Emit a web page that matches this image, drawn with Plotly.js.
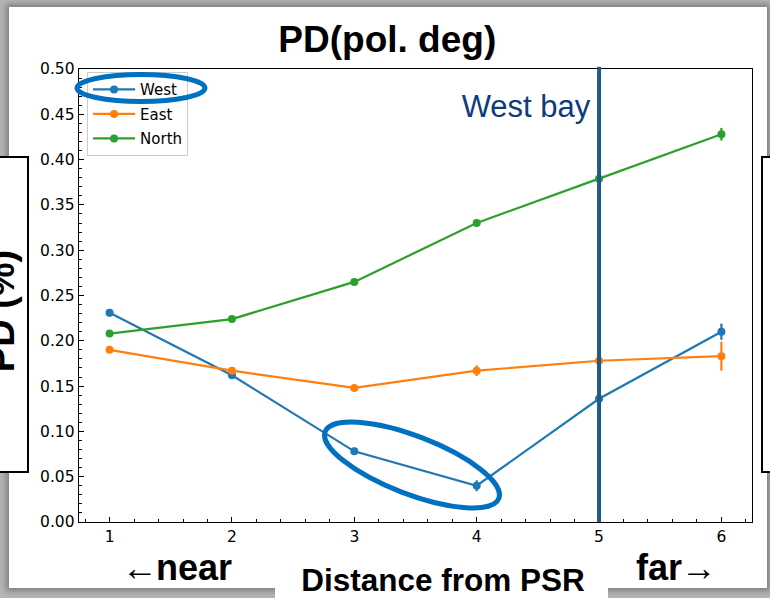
<!DOCTYPE html>
<html>
<head>
<meta charset="utf-8">
<script src="https://cdn.plot.ly/plotly-3.0.1.min.js"></script>
<style>
  html, body { margin:0; padding:0; width:770px; height:598px; overflow:hidden; background:#b5b5b5; }
  #card { position:absolute; left:9px; top:7px; width:758px; height:581px; background:#fff;
          box-shadow: 0 0 6px 3px rgba(0,0,0,0.30); }
  #chart { position:absolute; left:0; top:0; width:770px; height:598px; }
  #overlay { position:absolute; left:0; top:0; width:770px; height:598px; pointer-events:none; }
</style>
</head>
<body>
<div id="card"></div>
<div id="chart"></div>
<svg id="overlay" width="770" height="598" xmlns="http://www.w3.org/2000/svg"></svg>
<script>
// ---- data ----
const distance = [1, 2, 3, 4, 5, 6];
const seriesNames = ["West", "East", "North"];
const westPD  = [0.231, 0.162, 0.078, 0.040, 0.136, 0.210];
const westErr = [0.004, 0.004, 0.004, 0.006, 0.008, 0.009];
const eastPD  = [0.190, 0.167, 0.148, 0.167, 0.178, 0.183];
const eastErr = [0.003, 0.003, 0.003, 0.006, 0.010, 0.016];
const northPD  = [0.208, 0.224, 0.265, 0.330, 0.379, 0.428];
const northErr = [0.003, 0.003, 0.003, 0.004, 0.005, 0.007];
const westBayX = 5;

const colors = ["#1f77b4", "#ff7f0e", "#2ca02c"];
const values = [westPD, eastPD, northPD];
const errors = [westErr, eastErr, northErr];

const traces = seriesNames.map((name, i) => ({
  type: "scatter",
  mode: "lines+markers",
  name: name,
  legendgroup: name,
  x: distance,
  y: values[i],
  line: { color: colors[i], width: 2.2 },
  marker: { color: colors[i], size: 8 },
  error_y: { type: "data", array: errors[i], visible: true, thickness: 2.2, width: 0, color: colors[i] },
  hoverinfo: "x+y+name"
}));

const tickFont = { family: "DejaVu Sans", size: 15.5, color: "#000" };

const layout = {
  width: 770, height: 598,
  margin: { l: 79, r: 18, t: 69, b: 76, pad: 0 },
  paper_bgcolor: "rgba(0,0,0,0)",
  plot_bgcolor: "#ffffff",
  showlegend: true,
  title: {
    text: "<b>PD(pol. deg)</b>",
    font: { family: "Liberation Sans, Arial, sans-serif", size: 37, color: "#000" },
    x: 0.503, xanchor: "center", xref: "container",
    y: 0.935, yanchor: "middle", yref: "container"
  },
  xaxis: {
    range: [0.75, 6.25],
    tickmode: "linear", tick0: 1, dtick: 1,
    ticks: "inside", ticklen: 5, tickwidth: 1, tickcolor: "#000",
    minor: { tick0: 0.2, dtick: 0.2, ticks: "inside", ticklen: 3, tickwidth: 1, tickcolor: "#000", showgrid: false },
    showline: true, linecolor: "#000", linewidth: 1.3, mirror: true,
    showgrid: false, zeroline: false,
    tickfont: tickFont
  },
  yaxis: {
    range: [0, 0.5],
    tickmode: "linear", tick0: 0, dtick: 0.05, tickformat: ".2f",
    ticks: "inside", ticklen: 5, tickwidth: 1, tickcolor: "#000",
    minor: { dtick: 0.01, ticks: "inside", ticklen: 3, tickwidth: 1, tickcolor: "#000", showgrid: false },
    showline: true, linecolor: "#000", linewidth: 1.3, mirror: true,
    showgrid: false, zeroline: false,
    tickfont: tickFont
  },
  legend: {
    x: 0.012, y: 0.993, xanchor: "left", yanchor: "top",
    bgcolor: "rgba(255,255,255,0.85)", bordercolor: "#cccccc", borderwidth: 1,
    font: { family: "DejaVu Sans", size: 15, color: "#000" },
    itemwidth: 42,
    traceorder: "grouped", tracegroupgap: 2
  },
  shapes: [{
    type: "line", xref: "x", yref: "paper",
    x0: westBayX, x1: westBayX, y0: 0, y1: 1.005,
    line: { color: "#1d5c8a", width: 4 }, layer: "above"
  }]
};

Plotly.newPlot("chart", traces, layout, { displayModeBar: false, staticPlot: true });

// ---- slide decorations (overlay) ----
const NS = "http://www.w3.org/2000/svg";
const svg = document.getElementById("overlay");
function el(tag, attrs, text) {
  const e = document.createElementNS(NS, tag);
  for (const k in attrs) e.setAttribute(k, attrs[k]);
  if (text !== undefined) e.textContent = text;
  svg.appendChild(e);
  return e;
}
const boldFont = "Liberation Sans, Arial, sans-serif";

// side boxes
el("rect", { x: -6, y: 157, width: 34, height: 315, fill: "#fff", stroke: "#000", "stroke-width": 2 });
el("rect", { x: 762, y: 157, width: 20, height: 315, fill: "#fff", stroke: "#000", "stroke-width": 2 });
el("text", { transform: "translate(14,311) rotate(-90)", "text-anchor": "middle",
  "font-family": boldFont, "font-weight": "bold", "font-size": 38, fill: "#000" }, "PD (%)");

// bottom labels
el("rect", { x: 275, y: 565, width: 333, height: 40, fill: "#fff" });
el("text", { x: 443, y: 591, "text-anchor": "middle", "font-family": boldFont,
  "font-weight": "bold", "font-size": 31.5, fill: "#000" }, "Distance from PSR");

const near = el("text", { x: 122, y: 580, "font-family": boldFont, "font-weight": "bold", "font-size": 36, fill: "#000" });
const a1 = document.createElementNS(NS, "tspan"); a1.setAttribute("font-weight", "normal"); a1.textContent = "\u2190"; near.appendChild(a1);
const t1 = document.createElementNS(NS, "tspan"); t1.setAttribute("dx", "-2"); t1.textContent = "near"; near.appendChild(t1);

const far = el("text", { x: 636, y: 580, "font-family": boldFont, "font-weight": "bold", "font-size": 36, fill: "#000" });
const t2 = document.createElementNS(NS, "tspan"); t2.textContent = "far"; far.appendChild(t2);
const a2 = document.createElementNS(NS, "tspan"); a2.setAttribute("font-weight", "normal"); a2.setAttribute("dx", "-1"); a2.textContent = "\u2192"; far.appendChild(a2);

// West bay label
el("text", { x: 526, y: 117, "text-anchor": "middle", "font-family": boldFont,
  "font-size": 31, fill: "#0e3a80" }, "West bay");

// highlight ellipses
el("ellipse", { cx: 141, cy: 88, rx: 64, ry: 13.5, fill: "none", stroke: "#0070c0", "stroke-width": 5 });
el("ellipse", { cx: 412, cy: 465, rx: 93, ry: 29, fill: "none", stroke: "#0070c0", "stroke-width": 5,
  transform: "rotate(21 412 465)" });
</script>
</body>
</html>
